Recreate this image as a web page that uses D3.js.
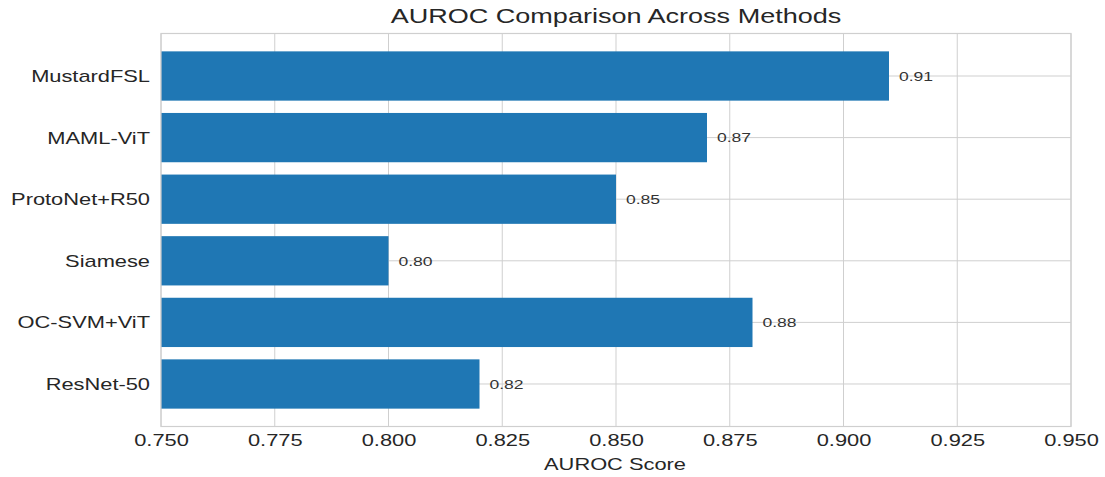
<!DOCTYPE html>
<html>
<head>
<meta charset="utf-8">
<script src="https://cdn.jsdelivr.net/npm/d3@7"></script>
<style>
  html, body { margin: 0; padding: 0; background: #fff; }
  svg { display: block; font-family: "Liberation Sans", Arial, sans-serif; }
</style>
</head>
<body>
<svg id="chart" width="1105" height="477"></svg>
<script>
// Data (top to bottom as displayed)
const methods = ["MustardFSL", "MAML-ViT", "ProtoNet+R50", "Siamese", "OC-SVM+ViT", "ResNet-50"];
const auroc = [0.91, 0.87, 0.85, 0.80, 0.88, 0.82];
const xTicks = [0.750, 0.775, 0.800, 0.825, 0.850, 0.875, 0.900, 0.925, 0.950];
const titleText = "AUROC Comparison Across Methods";
const xLabelText = "AUROC Score";

const W = 1105, H = 477;
const SX = 1.3; // horizontal text stretch seen in reference
const margin = { left: 161, right: W - 1071, top: 33.5, bottom: H - 426.5 };
const svg = d3.select("#chart");

const x = d3.scaleLinear().domain([0.75, 0.95]).range([margin.left, W - margin.right]);
const y = d3.scaleBand().domain(methods).range([margin.top, H - margin.bottom])
  .paddingInner(0.2).paddingOuter(0.29);

const gridColor = "#cfcfcf";
const textColor = "#262626";

// vertical grid
svg.append("g").selectAll("line").data(xTicks).join("line")
  .attr("x1", d => x(d)).attr("x2", d => x(d))
  .attr("y1", margin.top).attr("y2", H - margin.bottom)
  .attr("stroke", gridColor).attr("stroke-width", 1);
// horizontal grid at category centers
svg.append("g").selectAll("line").data(methods).join("line")
  .attr("x1", margin.left).attr("x2", W - margin.right)
  .attr("y1", d => y(d) + y.bandwidth() / 2).attr("y2", d => y(d) + y.bandwidth() / 2)
  .attr("stroke", gridColor).attr("stroke-width", 1);

// bars
svg.append("g").selectAll("rect").data(methods).join("rect")
  .attr("x", x(0.75))
  .attr("y", d => y(d))
  .attr("width", (d, i) => x(auroc[i]) - x(0.75))
  .attr("height", y.bandwidth())
  .attr("fill", "#1f77b4");

// frame
svg.append("rect")
  .attr("x", margin.left).attr("y", margin.top)
  .attr("width", W - margin.right - margin.left)
  .attr("height", H - margin.bottom - margin.top)
  .attr("fill", "none").attr("stroke", gridColor).attr("stroke-width", 1.2);

// value labels
svg.append("g").selectAll("text").data(methods).join("text")
  .attr("transform", (d, i) => `translate(${x(auroc[i]) + 10},${y(d) + y.bandwidth() / 2 + 4.8}) scale(${SX},1)`)
  .attr("font-size", 13.5)
  .attr("fill", "#333")
  .text((d, i) => auroc[i].toFixed(2));

// x axis
const xAxis = d3.axisBottom(x).tickValues(xTicks).tickFormat(d3.format(".3f")).tickSize(0).tickPadding(0);
const gx = svg.append("g").attr("transform", `translate(0,${H - margin.bottom})`).call(xAxis);
gx.select(".domain").remove();
gx.selectAll("text")
  .attr("y", null).attr("dy", null)
  .attr("transform", `translate(0,19) scale(${SX},1)`)
  .attr("font-size", 16.8)
  .attr("font-family", "Liberation Sans, Arial, sans-serif")
  .attr("fill", textColor);

// y axis
const yAxis = d3.axisLeft(y).tickSize(0).tickPadding(0);
const gy = svg.append("g").attr("transform", `translate(${margin.left},0)`).call(yAxis);
gy.select(".domain").remove();
gy.selectAll("text")
  .attr("x", null).attr("dy", null)
  .attr("transform", `translate(-11,5.9) scale(${SX},1)`)
  .attr("font-size", 16.8)
  .attr("font-family", "Liberation Sans, Arial, sans-serif")
  .attr("fill", textColor);

// title
svg.append("text")
  .attr("transform", `translate(${(x(0.75) + x(0.95)) / 2},23.3) scale(${SX},1)`)
  .attr("text-anchor", "middle")
  .attr("font-size", 20.8)
  .attr("fill", textColor)
  .text(titleText);

// x label
svg.append("text")
  .attr("transform", `translate(${(x(0.75) + x(0.95)) / 2 - 1},470) scale(${SX},1)`)
  .attr("text-anchor", "middle")
  .attr("font-size", 16.8)
  .attr("fill", textColor)
  .text(xLabelText);
</script>
</body>
</html>
